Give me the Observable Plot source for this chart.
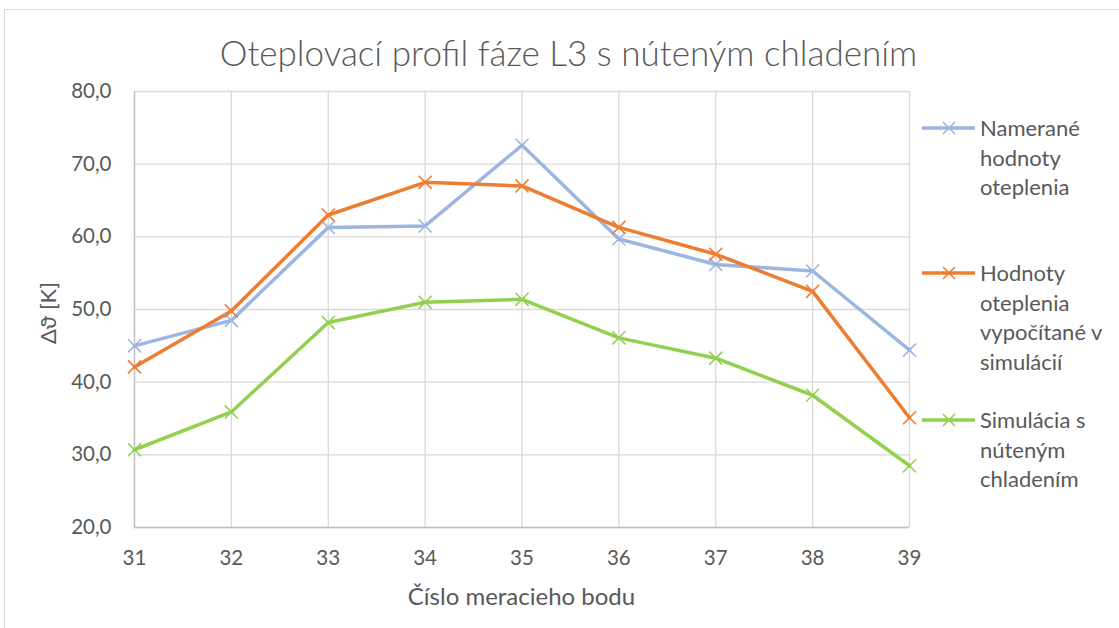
<!DOCTYPE html>
<html>
<head>
<meta charset="utf-8">
<script src="https://cdn.jsdelivr.net/npm/d3@7"></script>
<script src="https://cdn.jsdelivr.net/npm/@observablehq/plot@0.6"></script>
<style>
  html, body { margin: 0; padding: 0; background: #fff; overflow: hidden; }
  #wrap { position: relative; width: 1119px; height: 628px; font-family: Lato, "Open Sans", sans-serif; color: #595959; }
  #frame { position: absolute; left: 4px; top: 9px; width: 1300px; height: 800px; border: 1px solid #d9d9d9; box-sizing: border-box; }
  #chart { position: absolute; left: 0; top: 0; }
  .title { position: absolute; left: 0; width: 1137px; top: 31px; text-align: center; font-size: 35px; font-weight: 300; white-space: nowrap; }
  .xlab { position: absolute; left: 0; width: 1043px; top: 581px; text-align: center; font-size: 24px; white-space: nowrap; }
  .ylab { position: absolute; left: 47px; top: 313px; transform: translate(-50%, -50%) rotate(-90deg); font-size: 22px; white-space: nowrap; }
  .leg { position: absolute; left: 922px; }
  .leg svg { position: absolute; left: 0; top: 0; }
  .leg .txt { position: absolute; left: 58px; top: -15px; font-size: 22px; line-height: 29.5px; white-space: nowrap; }
</style>
</head>
<body>
<div id="wrap">
  <div id="frame"></div>
  <div id="chart"></div>
</div>
<script>
// Data
const points = [31, 32, 33, 34, 35, 36, 37, 38, 39];
const measured = [45.0, 48.5, 61.3, 61.5, 72.6, 59.7, 56.2, 55.3, 44.4];
const simulated = [42.1, 49.8, 63.0, 67.5, 67.0, 61.3, 57.6, 52.5, 35.1];
const forcedCooling = [30.7, 35.9, 48.2, 51.0, 51.4, 46.1, 43.3, 38.2, 28.5];
const yTicks = [20, 30, 40, 50, 60, 70, 80];
const seriesNames = ["Namerané hodnoty oteplenia", "Hodnoty oteplenia vypočítané v simulácií", "Simulácia s núteným chladením"];
const legendLines = [["Namerané", "hodnoty", "oteplenia"], ["Hodnoty", "oteplenia", "vypočítané v", "simulácií"], ["Simulácia s", "núteným", "chladením"]];
const colors = ["#9db5e1", "#ed7d31", "#92d050"];
const titleText = "Oteplovací profil fáze L3 s núteným chladením";
const xLabel = "Číslo meracieho bodu";
const yLabel = "Δϑ [K]";

const seriesVals = [measured, simulated, forcedCooling];
const rows = [];
seriesVals.forEach((vals, s) => vals.forEach((v, i) => rows.push({series: seriesNames[s], x: points[i], y: v})));

const fmt = d => d3.format(".1f")(d).replace(".", ",");

const plot = Plot.plot({
  width: 1119,
  height: 628,
  marginLeft: 134,
  marginRight: 210,
  marginTop: 91,
  marginBottom: 101,
  style: {fontFamily: "Lato, 'Open Sans', sans-serif", color: "#595959", background: "transparent"},
  x: {domain: [31, 39], ticks: points},
  y: {domain: [20, 80], ticks: yTicks},
  color: {domain: seriesNames, range: colors},
  marks: [
    Plot.gridX(points, {stroke: "#d9d9d9", strokeOpacity: 1, strokeWidth: 1.3}),
    Plot.gridY(yTicks, {stroke: "#d9d9d9", strokeOpacity: 1, strokeWidth: 1.3}),
    Plot.ruleY([20], {stroke: "#bfbfbf", strokeWidth: 1.3}),
    Plot.ruleX([31], {stroke: "#bfbfbf", strokeWidth: 1.3}),
    Plot.axisX(points, {tickSize: 0, tickPadding: 23, fontSize: 20.5, label: null, tickFormat: d => String(d)}),
    Plot.axisY(yTicks, {tickSize: 0, tickPadding: 23, fontSize: 20.5, label: null, tickFormat: fmt}),
    Plot.line(rows, {x: "x", y: "y", stroke: "series", strokeWidth: 3.5, z: "series"}),
    Plot.dot(rows, {x: "x", y: "y", stroke: "series", symbol: "times", r: 6, strokeWidth: 1.6})
  ]
});
document.getElementById("chart").appendChild(plot);

const wrap = document.getElementById("wrap");
function addDiv(cls, text) {
  const d = document.createElement("div");
  d.className = cls; d.textContent = text; wrap.appendChild(d); return d;
}
addDiv("title", titleText);
addDiv("xlab", xLabel);
addDiv("ylab", yLabel);

const legTops = [128, 273, 420];
legendLines.forEach((lines, i) => {
  const g = document.createElement("div");
  g.className = "leg";
  g.style.top = legTops[i] + "px";
  const svg = d3.create("svg").attr("width", 56).attr("height", 14).style("top", "-7px").style("overflow", "visible");
  svg.append("line").attr("x1", 0).attr("x2", 53).attr("y1", 7).attr("y2", 7).attr("stroke", colors[i]).attr("stroke-width", 3.5);
  svg.append("path").attr("d", "M21,1L33,13M21,13L33,1").attr("stroke", colors[i]).attr("stroke-width", 1.6).attr("fill", "none");
  g.appendChild(svg.node());
  const t = document.createElement("div");
  t.className = "txt";
  lines.forEach(l => { const s = document.createElement("div"); s.textContent = l; t.appendChild(s); });
  g.appendChild(t);
  wrap.appendChild(g);
});
</script>
</body>
</html>
